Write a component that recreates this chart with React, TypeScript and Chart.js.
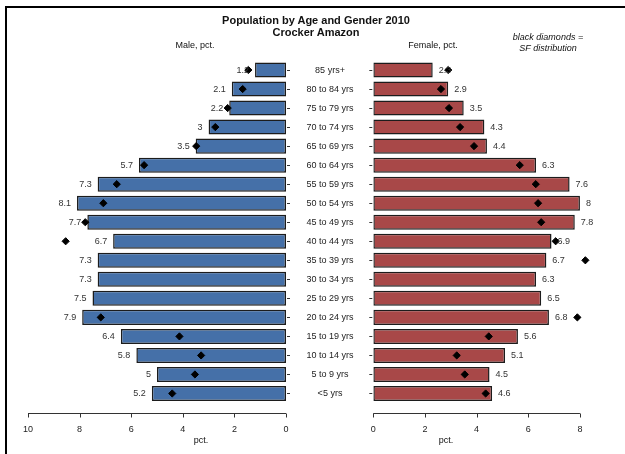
import React, { useEffect, useRef } from 'react';
import { Chart, registerables } from 'chart.js';
Chart.register(...registerables);

const ageGroups = ['85 yrs+', '80 to 84 yrs', '75 to 79 yrs', '70 to 74 yrs', '65 to 69 yrs', '60 to 64 yrs', '55 to 59 yrs', '50 to 54 yrs', '45 to 49 yrs', '40 to 44 yrs', '35 to 39 yrs', '30 to 34 yrs', '25 to 29 yrs', '20 to 24 yrs', '15 to 19 yrs', '10 to 14 yrs', '5 to 9 yrs', '<5 yrs'];
const maleValues = [1.2, 2.1, 2.2, 3, 3.5, 5.7, 7.3, 8.1, 7.7, 6.7, 7.3, 7.3, 7.5, 7.9, 6.4, 5.8, 5, 5.2];
const maleSF = [1.46, 1.68, 2.26, 2.74, 3.48, 5.5, 6.56, 7.08, 7.78, 8.54, null, null, null, 7.18, 4.13, 3.29, 3.53, 4.41];
const femaleValues = [2.3, 2.9, 3.5, 4.3, 4.4, 6.3, 7.6, 8, 7.8, 6.9, 6.7, 6.3, 6.5, 6.8, 5.6, 5.1, 4.5, 4.6];
const femaleSF = [2.9, 2.62, 2.93, 3.36, 3.9, 5.67, 6.29, 6.38, 6.5, 7.06, 8.21, null, null, 7.9, 4.47, 3.23, 3.54, 4.35];
const maleTicks = [10, 8, 6, 4, 2, 0];
const femaleTicks = [0, 2, 4, 6, 8];

const FONT = "'Liberation Sans', Arial, Helvetica, sans-serif";
const W = 625;
const H = 454;

function makePlugin(side: 'left' | 'right', values: number[], ticks: number[]) {
  return {
    id: 'pyramidDecor_' + side,
    afterDraw(chart: any) {
      const ctx = chart.ctx;
      const xs = chart.scales.x;
      const ys = chart.scales.y;
      const area = chart.chartArea;
      ctx.save();
      ctx.strokeStyle = '#333';
      ctx.lineWidth = 1;
      // x axis line spanning first..last tick
      const axisY = Math.round(area.bottom + 9.5) + 0.5;
      const tx = ticks.map((t) => xs.getPixelForValue(t));
      ctx.beginPath();
      ctx.moveTo(Math.min(...tx), axisY);
      ctx.lineTo(Math.max(...tx), axisY);
      tx.forEach((p) => {
        ctx.moveTo(Math.round(p) + 0.5, axisY);
        ctx.lineTo(Math.round(p) + 0.5, axisY + 4);
      });
      ctx.stroke();
      // y tick marks
      ctx.beginPath();
      ageGroups.forEach((_, i) => {
        const y = Math.round(ys.getPixelForValue(i)) + 0.5;
        if (side === 'left') {
          ctx.moveTo(area.right + 1, y);
          ctx.lineTo(area.right + 4, y);
        } else {
          ctx.moveTo(area.left - 4, y);
          ctx.lineTo(area.left - 1, y);
        }
      });
      ctx.stroke();
      // value labels
      ctx.fillStyle = '#333';
      ctx.font = `9px ${FONT}`;
      ctx.textBaseline = 'middle';
      values.forEach((v, i) => {
        const y = ys.getPixelForValue(i) + 0.5;
        const px = xs.getPixelForValue(v);
        if (side === 'left') {
          ctx.textAlign = 'right';
          ctx.fillText(String(v), px - 6, y);
        } else {
          ctx.textAlign = 'left';
          ctx.fillText(String(v), px + 6, y);
        }
      });
      // category labels between panels
      if (side === 'right') {
        ctx.fillStyle = '#222';
        ctx.textAlign = 'center';
        ageGroups.forEach((lab, i) => {
          const y = ys.getPixelForValue(i) + 0.5;
          ctx.fillText(lab, 330, y);
        });
      }
      ctx.restore();
    },
  };
}

function buildConfig(side: 'left' | 'right'): any {
  const isLeft = side === 'left';
  const values = isLeft ? maleValues : femaleValues;
  const sf = isLeft ? maleSF : femaleSF;
  const ticks = isLeft ? maleTicks : femaleTicks;
  return {
    type: 'bar',
    data: {
      labels: ageGroups,
      datasets: [
        {
          type: 'line',
          indexAxis: 'y',
          data: sf,
          showLine: false,
          pointStyle: 'rectRot',
          pointRadius: 3.6,
          pointBorderWidth: 1,
          pointBackgroundColor: '#000',
          pointBorderColor: '#000',
          borderColor: '#000',
          backgroundColor: '#000',
          order: 0,
          clip: false,
        },
        {
          type: 'bar',
          data: values,
          backgroundColor: isLeft ? '#4570A8' : '#A84848',
          borderColor: '#1c1c1c',
          borderWidth: 1.5,
          borderSkipped: false,
          categoryPercentage: 1,
          barPercentage: 0.79,
          order: 1,
        },
      ],
    },
    options: {
      indexAxis: 'y',
      responsive: false,
      animation: false,
      events: [],
      layout: {
        padding: isLeft
          ? { left: 28, right: W - 286, top: 60.5, bottom: 0 }
          : { left: 373.3, right: W - (373.3 + 9 * 25.83), top: 60.5, bottom: 0 },
      },
      plugins: {
        legend: { display: false },
        tooltip: { enabled: false },
        title: { display: false },
      },
      scales: {
        y: {
          type: 'category',
          display: false,
          offset: true,
        },
        x: {
          type: 'linear',
          min: 0,
          max: isLeft ? 10 : 9,
          reverse: isLeft,
          grid: { display: false, drawTicks: false },
          border: { display: false },
          afterBuildTicks: (scale: any) => {
            scale.ticks = ticks.map((v) => ({ value: v }));
          },
          afterFit: (scale: any) => {
            scale.height = 51;
          },
          ticks: {
            padding: 21,
            autoSkip: false,
            maxRotation: 0,
            color: '#222',
            font: { family: FONT, size: 9 },
            callback: (v: any) => String(v),
          },
        },
      },
    },
    plugins: [makePlugin(side, values, ticks)],
  };
}

export default function App() {
  const leftRef = useRef<HTMLCanvasElement>(null);
  const rightRef = useRef<HTMLCanvasElement>(null);

  useEffect(() => {
    const c1 = new Chart(leftRef.current as HTMLCanvasElement, buildConfig('left'));
    const c2 = new Chart(rightRef.current as HTMLCanvasElement, buildConfig('right'));
    return () => {
      c1.destroy();
      c2.destroy();
    };
  }, []);

  const text = (style: React.CSSProperties, content: React.ReactNode) => (
    <div
      style={{
        position: 'absolute',
        fontFamily: FONT,
        color: '#111',
        whiteSpace: 'nowrap',
        transform: 'translate(-50%, -50%)',
        lineHeight: 1,
        ...style,
      }}
    >
      {content}
    </div>
  );

  return (
    <div style={{ position: 'fixed', left: 0, top: 0, width: W, height: H, background: '#fff', overflow: 'hidden' }}>
      <div
        style={{
          position: 'absolute',
          left: 5,
          top: 6,
          width: W,
          height: H,
          borderTop: '2px solid #000',
          borderLeft: '2px solid #000',
        }}
      />
      <canvas ref={leftRef} width={W} height={H} style={{ position: 'absolute', left: 0, top: 0, width: W, height: H }} />
      <canvas ref={rightRef} width={W} height={H} style={{ position: 'absolute', left: 0, top: 0, width: W, height: H }} />
      {text({ left: 316, top: 20, fontSize: 11, fontWeight: 'bold' }, 'Population by Age and Gender 2010')}
      {text({ left: 316, top: 32, fontSize: 11, fontWeight: 'bold' }, 'Crocker Amazon')}
      {text({ left: 195, top: 45, fontSize: 9 }, 'Male, pct.')}
      {text({ left: 433, top: 45, fontSize: 9 }, 'Female, pct.')}
      {text({ left: 548, top: 37, fontSize: 9, fontStyle: 'italic' }, 'black diamonds =')}
      {text({ left: 548, top: 48, fontSize: 9, fontStyle: 'italic' }, 'SF distribution')}
      {text({ left: 201, top: 440, fontSize: 9 }, 'pct.')}
      {text({ left: 446, top: 440, fontSize: 9 }, 'pct.')}
    </div>
  );
}
